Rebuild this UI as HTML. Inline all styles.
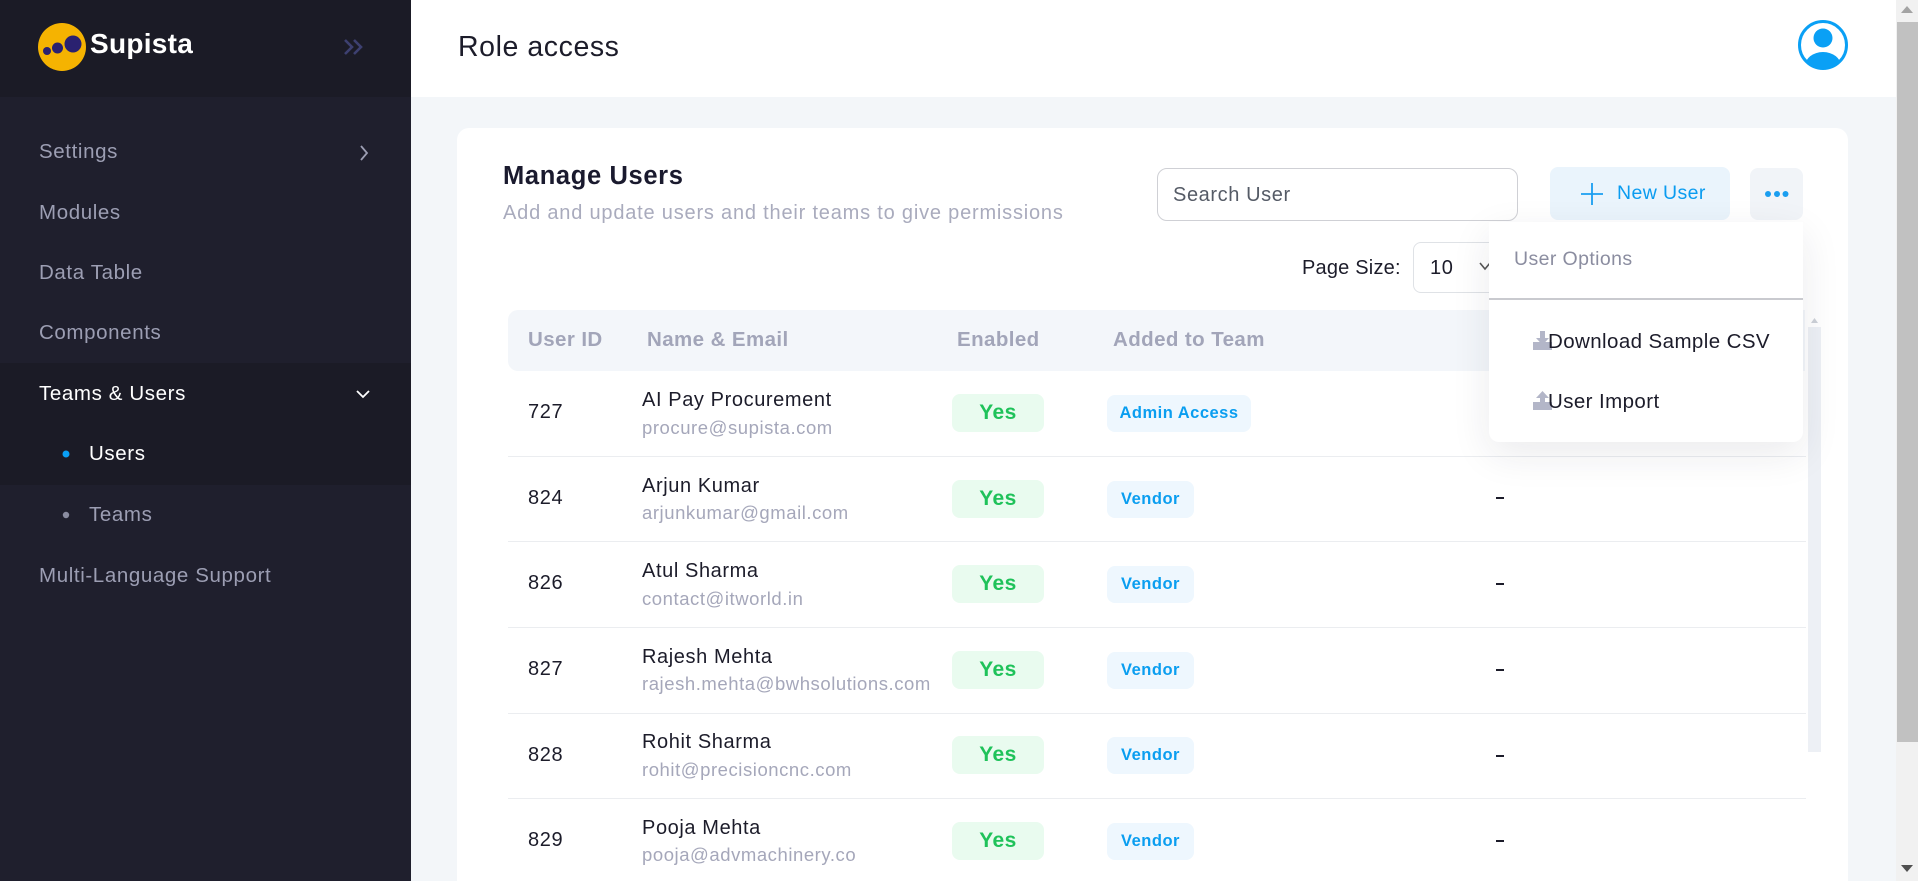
<!DOCTYPE html>
<html><head><meta charset="utf-8"><style>
*{margin:0;padding:0;box-sizing:border-box}
html,body{width:1918px;height:881px;overflow:hidden;background:#f3f6f9;font-family:"Liberation Sans",Arial,sans-serif;}
.wrap{position:relative;width:1918px;height:881px;overflow:hidden}
.a{position:absolute}
.t{position:absolute;white-space:nowrap;line-height:1;letter-spacing:0.03em}
.side{left:0;top:0;width:411px;height:881px;background:#1f1f2d}
.sl{color:#9c9eb3;font-size:20.5px;left:39px}
.hdrT{color:#a2a5b9;font-size:20.5px;font-weight:bold;top:330px;letter-spacing:0.02em}
.id{color:#1c1c2a;font-size:20px;left:528px}
.nm{color:#1c1c2a;font-size:20px;left:642px}
.em{color:#a5a7ba;font-size:18.5px;left:642px}
.yes{position:absolute;left:952px;width:92px;height:38px;background:#e9fbef;border-radius:8px;color:#1fc25a;font-weight:bold;font-size:21px;line-height:38px;text-align:center;letter-spacing:0.02em}
.team{position:absolute;left:1107px;height:37px;background:#eef7fe;border-radius:8px;color:#0a9ef0;font-weight:bold;font-size:16.5px;line-height:37px;text-align:center;letter-spacing:0.03em}
.line{position:absolute;left:508px;width:1298px;height:1px;background:#ebedf0}
.dash{position:absolute;left:1496px;width:8px;height:2px;background:#1c1c2a}
</style></head><body><div class="wrap">

<!-- Sidebar -->
<div class="a side"></div>
<div class="a" style="left:0;top:0;width:411px;height:97px;background:#1b1b26"></div>
<div class="a" style="left:0;top:363px;width:411px;height:122px;background:#1b1b26"></div>
<svg class="a" style="left:0;top:0" width="411" height="97">
  <circle cx="62" cy="47" r="24" fill="#f5b301"/>
  <circle cx="73" cy="44" r="8.5" fill="#2a2170"/>
  <circle cx="57.5" cy="48" r="5.5" fill="#2a2170"/>
  <circle cx="47" cy="51" r="4" fill="#2a2170"/>
  <path d="M345 40 L352 47 L345 54 M354 40 L361 47 L354 54" stroke="#3d4070" stroke-width="2.6" fill="none"/>
</svg>
<div class="t" style="left:90px;top:30px;font-size:28px;font-weight:bold;color:#fff;letter-spacing:0.01em">Supista</div>

<div class="t sl" style="top:142px">Settings</div>
<div class="t sl" style="top:203px">Modules</div>
<div class="t sl" style="top:263px">Data Table</div>
<div class="t sl" style="top:323px">Components</div>
<div class="t sl" style="top:384px;color:#fff">Teams &amp; Users</div>
<div class="t sl" style="top:444px;left:89px;color:#fff">Users</div>
<div class="t sl" style="top:505px;left:89px">Teams</div>
<div class="t sl" style="top:566px">Multi-Language Support</div>
<svg class="a" style="left:0;top:0" width="411" height="600">
  <path d="M361 146 L367 153 L361 160" stroke="#9c9eb3" stroke-width="1.8" fill="none"/>
  <path d="M357 391 L363 397 L369 391" stroke="#fff" stroke-width="1.8" fill="none"/>
  <circle cx="66" cy="454" r="3.5" fill="#0aa0f5"/>
  <circle cx="66" cy="515" r="3.2" fill="#8a8ca0"/>
</svg>

<!-- Top header -->
<div class="a" style="left:411px;top:0;width:1485px;height:97px;background:#fff"></div>
<div class="t" style="left:458px;top:33px;font-size:28.5px;color:#1c1c2a;letter-spacing:0.02em">Role access</div>
<svg class="a" style="left:1796px;top:18px" width="54" height="54">
  <defs><clipPath id="cp"><circle cx="27" cy="27" r="23.5"/></clipPath></defs>
  <circle cx="27" cy="27" r="23.5" fill="#fff" stroke="#0aa0f5" stroke-width="3"/>
  <circle cx="27" cy="20" r="9.5" fill="#0aa0f5"/>
  <ellipse cx="27" cy="48" rx="18" ry="14" fill="#0aa0f5" clip-path="url(#cp)"/>
</svg>

<!-- Card -->
<div class="a" style="left:457px;top:128px;width:1391px;height:753px;background:#fff;border-radius:12px 12px 0 0"></div>
<div class="t" style="left:503px;top:164px;font-size:25.5px;font-weight:bold;color:#1a1a2e;letter-spacing:0.025em">Manage Users</div>
<div class="t" style="left:503px;top:203px;font-size:20px;color:#a9abbd;letter-spacing:0.04em">Add and update users and their teams to give permissions</div>

<div class="a" style="left:1157px;top:168px;width:361px;height:53px;border:1px solid #cfd0d5;border-radius:10px;background:#fff"></div>
<div class="t" style="left:1173px;top:185px;font-size:20px;color:#555b66">Search User</div>

<div class="a" style="left:1550px;top:167px;width:180px;height:53px;background:#eaf4fc;border-radius:8px"></div>
<svg class="a" style="left:1581px;top:183px" width="22" height="22"><path d="M11 0 V22 M0 11 H22" stroke="#1a9ef0" stroke-width="1.8"/></svg>
<div class="t" style="left:1617px;top:184px;font-size:19.5px;color:#0a9cf0;letter-spacing:0.02em">New User</div>

<div class="a" style="left:1750px;top:168px;width:53px;height:52px;background:#f1f4f8;border-radius:8px"></div>
<svg class="a" style="left:1750px;top:168px" width="53" height="52">
  <circle cx="18" cy="26" r="3" fill="#1a9ef0"/><circle cx="27" cy="26" r="3" fill="#1a9ef0"/><circle cx="35.5" cy="26" r="3" fill="#1a9ef0"/>
</svg>

<div class="t" style="left:1302px;top:258px;font-size:20px;color:#1c1c2a;letter-spacing:0.01em">Page Size:</div>
<div class="a" style="left:1413px;top:242px;width:120px;height:51px;border:1px solid #dfe2e6;border-radius:8px;background:#fff"></div>
<div class="t" style="left:1430px;top:258px;font-size:20px;color:#1c1c2a">10</div>
<svg class="a" style="left:1478px;top:260px" width="14" height="12"><path d="M2 3 L7 9 L12 3" stroke="#555" stroke-width="1.6" fill="none"/></svg>

<!-- Table -->
<div class="a" style="left:508px;top:310px;width:1297px;height:61px;background:#f3f6fa;border-radius:10px 0 0 10px"></div>
<div class="t hdrT" style="left:528px">User ID</div>
<div class="t hdrT" style="left:647px">Name &amp; Email</div>
<div class="t hdrT" style="left:957px">Enabled</div>
<div class="t hdrT" style="left:1113px">Added to Team</div>

<div class="a" style="left:1808px;top:327px;width:13px;height:425px;background:#edf0f5"></div>
<svg class="a" style="left:1808px;top:315px" width="13" height="10"><path d="M3 8 L6.5 3 L10 8Z" fill="#cdd1d8"/></svg>

<div class="line" style="top:456px"></div>
<div class="line" style="top:541px"></div>
<div class="line" style="top:627px"></div>
<div class="line" style="top:713px"></div>
<div class="line" style="top:798px"></div>

<!-- Row 1 -->
<div class="t id" style="top:402px">727</div>
<div class="t nm" style="top:390px">AI Pay Procurement</div>
<div class="t em" style="top:419px">procure@supista.com</div>
<div class="yes" style="top:394px">Yes</div>
<div class="team" style="top:395px;width:144px">Admin Access</div>
<!-- Row 2 -->
<div class="t id" style="top:488px">824</div>
<div class="t nm" style="top:476px">Arjun Kumar</div>
<div class="t em" style="top:504px">arjunkumar@gmail.com</div>
<div class="yes" style="top:480px">Yes</div>
<div class="team" style="top:481px;width:87px">Vendor</div>
<div class="dash" style="top:497px"></div>
<!-- Row 3 -->
<div class="t id" style="top:573px">826</div>
<div class="t nm" style="top:561px">Atul Sharma</div>
<div class="t em" style="top:590px">contact@itworld.in</div>
<div class="yes" style="top:565px">Yes</div>
<div class="team" style="top:566px;width:87px">Vendor</div>
<div class="dash" style="top:583px"></div>
<!-- Row 4 -->
<div class="t id" style="top:659px">827</div>
<div class="t nm" style="top:647px">Rajesh Mehta</div>
<div class="t em" style="top:675px">rajesh.mehta@bwhsolutions.com</div>
<div class="yes" style="top:651px">Yes</div>
<div class="team" style="top:652px;width:87px">Vendor</div>
<div class="dash" style="top:669px"></div>
<!-- Row 5 -->
<div class="t id" style="top:745px">828</div>
<div class="t nm" style="top:732px">Rohit Sharma</div>
<div class="t em" style="top:761px">rohit@precisioncnc.com</div>
<div class="yes" style="top:736px">Yes</div>
<div class="team" style="top:737px;width:87px">Vendor</div>
<div class="dash" style="top:755px"></div>
<!-- Row 6 -->
<div class="t id" style="top:830px">829</div>
<div class="t nm" style="top:818px">Pooja Mehta</div>
<div class="t em" style="top:846px">pooja@advmachinery.co</div>
<div class="yes" style="top:822px">Yes</div>
<div class="team" style="top:823px;width:87px">Vendor</div>
<div class="dash" style="top:840px"></div>

<!-- Dropdown -->
<div class="a" style="left:1489px;top:222px;width:314px;height:220px;background:#fff;border-radius:0 0 10px 10px;box-shadow:0 12px 40px rgba(30,30,60,0.09)"></div>
<div class="t" style="left:1514px;top:250px;font-size:19.5px;color:#8b8da0;letter-spacing:0.02em">User Options</div>
<div class="a" style="left:1489px;top:298px;width:314px;height:2px;background:#c9cacf"></div>
<svg class="a" style="left:1533px;top:331px" width="20" height="20">
  <rect x="0" y="11" width="19" height="8" fill="#b3b6c8"/>
  <path d="M7 0 H12 V7 H16 L9.5 14 L3 7 H7Z" fill="#b3b6c8"/>
</svg>
<div class="t" style="left:1548px;top:332px;font-size:20.5px;color:#1c1c2a;letter-spacing:0.02em">Download Sample CSV</div>
<svg class="a" style="left:1533px;top:391px" width="20" height="20">
  <rect x="0" y="11" width="19" height="8" fill="#b3b6c8"/>
  <path d="M7 14 H12 V7 H16 L9.5 0 L3 7 H7Z" fill="#b3b6c8"/>
</svg>
<div class="t" style="left:1548px;top:392px;font-size:20.5px;color:#1c1c2a;letter-spacing:0.02em">User Import</div>

<!-- Page scrollbar -->
<div class="a" style="left:1896px;top:0;width:22px;height:881px;background:#f1f1f1"></div>
<div class="a" style="left:1897px;top:22px;width:21px;height:720px;background:#c1c1c1"></div>
<svg class="a" style="left:1896px;top:0" width="22" height="881">
  <path d="M5 13 L11 6 L17 13Z" fill="#a3a3a3"/>
  <path d="M5 865 L11 872 L17 865Z" fill="#505050"/>
</svg>
</div></body></html>
